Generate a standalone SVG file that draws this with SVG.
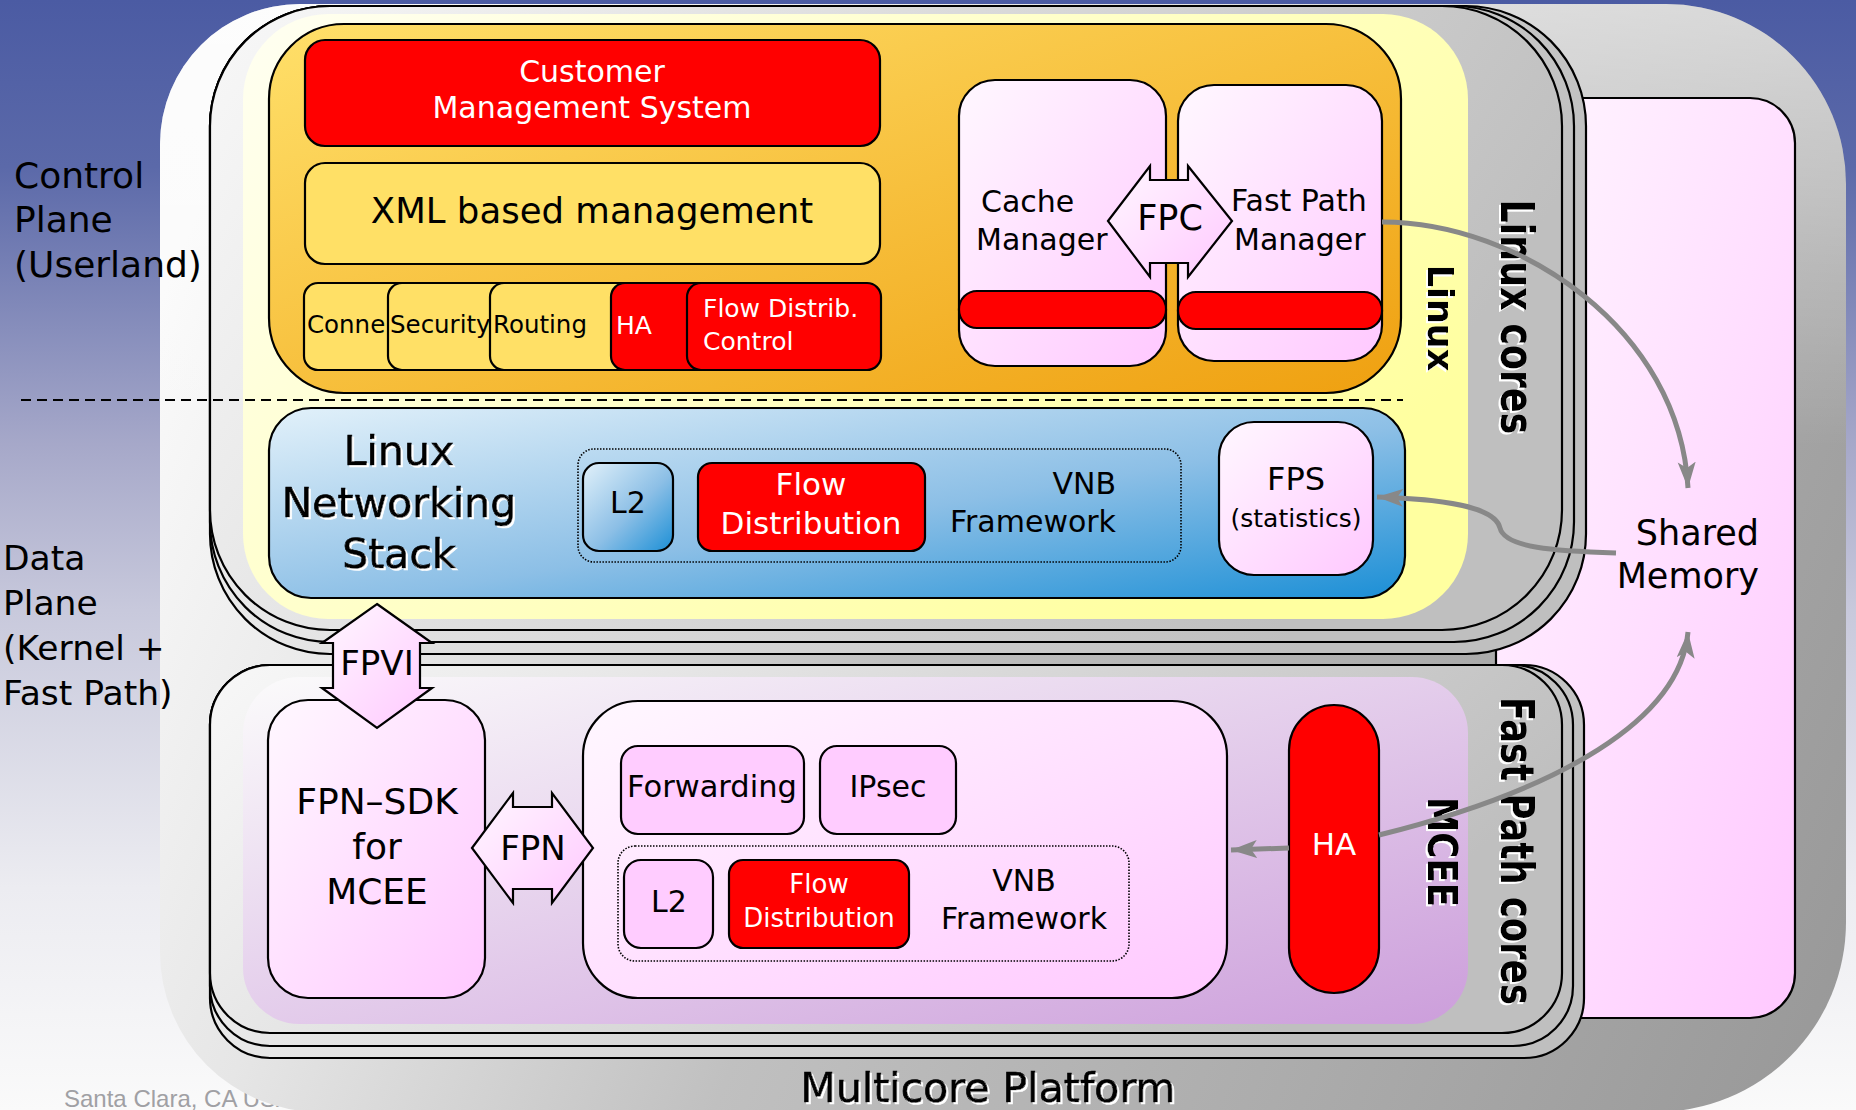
<svg xmlns="http://www.w3.org/2000/svg" width="1856" height="1110" viewBox="0 0 1856 1110">
<defs>
<linearGradient id="bg" x1="0" y1="0" x2="0" y2="1">
<stop offset="0" stop-color="#4b5ba3"/><stop offset="0.15" stop-color="#5b69a9"/><stop offset="0.4" stop-color="#a6a8c9"/><stop offset="0.55" stop-color="#c8c9dc"/><stop offset="0.8" stop-color="#ececf1"/><stop offset="1" stop-color="#fafafa"/>
</linearGradient>
<linearGradient id="outer" gradientUnits="userSpaceOnUse" x1="160" y1="300" x2="1846" y2="1000">
<stop offset="0" stop-color="#fafafa"/><stop offset="0.2" stop-color="#e6e6e6"/><stop offset="0.45" stop-color="#c0c0c0"/><stop offset="1" stop-color="#999999"/>
</linearGradient>
<linearGradient id="outerHi" x1="0" y1="0" x2="0" y2="1">
<stop offset="0" stop-color="#ffffff" stop-opacity="0.55"/><stop offset="0.4" stop-color="#ffffff" stop-opacity="0"/>
</linearGradient>
<linearGradient id="card" x1="0" y1="0" x2="1" y2="0.3">
<stop offset="0" stop-color="#f8f8f8"/><stop offset="1" stop-color="#bfbfbf"/>
</linearGradient>
<linearGradient id="yl" x1="0" y1="0" x2="1" y2="0.6">
<stop offset="0" stop-color="#fffff2"/><stop offset="1" stop-color="#ffffa0"/>
</linearGradient>
<linearGradient id="mc" x1="0" y1="0" x2="1" y2="1">
<stop offset="0" stop-color="#fbfbfb"/><stop offset="1" stop-color="#cc9edb"/>
</linearGradient>
<linearGradient id="or" x1="0" y1="0" x2="1" y2="1">
<stop offset="0" stop-color="#ffe06a"/><stop offset="1" stop-color="#efa010"/>
</linearGradient>
<linearGradient id="pk" x1="0" y1="0" x2="1" y2="1">
<stop offset="0" stop-color="#fff8ff"/><stop offset="1" stop-color="#ffc8ff"/>
</linearGradient>
<linearGradient id="bl" x1="0" y1="0" x2="1" y2="1">
<stop offset="0" stop-color="#e2f1fa"/><stop offset="0.55" stop-color="#8cbfe6"/><stop offset="1" stop-color="#1b8fd6"/>
</linearGradient>
<filter id="sh" x="-5%" y="-10%" width="110%" height="130%">
<feOffset in="SourceAlpha" dx="1.5" dy="1.5" result="o"/>
<feFlood flood-color="#ffffff" result="f"/>
<feComposite in="f" in2="o" operator="in" result="s"/>
<feMerge><feMergeNode in="s"/><feMergeNode in="SourceGraphic"/></feMerge>
</filter>
<marker id="ah" markerUnits="userSpaceOnUse" markerWidth="28" markerHeight="20" refX="26" refY="9" orient="auto">
<path d="M0,0 L26,9 L0,18 L6,9 Z" fill="#888888"/>
</marker>
<style>
text{font-family:'DejaVu Sans',sans-serif;fill:#000}
.bx{stroke:#000;stroke-width:2.2}
.red{fill:#ff0000;stroke:#000;stroke-width:2.2}
.wt{fill:#fff}
.emb{stroke:#000;stroke-width:0.7;filter:url(#sh)}
.rot{font-weight:bold;filter:url(#sh)}
.conn{fill:none;stroke:#888888;stroke-width:5}
</style>
</defs>

<rect x="0" y="0" width="1856" height="1110" fill="url(#bg)"/>
<text x="64" y="1107" font-size="24" style="font-family:'Liberation Sans',sans-serif;fill:#a0a0a4">Santa Clara, CA  USA</text>

<g id="multicore-platform">
<path d="M300,4 H1666 A180,180 0 0 1 1846,184 V922 A190,190 0 0 1 1656,1112 H320 A160,160 0 0 1 160,952 V144 A140,140 0 0 1 300,4 Z" fill="url(#outer)"/>
<path d="M300,4 H1666 A180,180 0 0 1 1846,184 V922 A190,190 0 0 1 1656,1112 H320 A160,160 0 0 1 160,952 V144 A140,140 0 0 1 300,4 Z" fill="url(#outerHi)"/>
<text class="emb" x="988" y="1102" font-size="41" text-anchor="middle">Multicore Platform</text>
</g>

<g id="shared-memory">
<rect class="bx" x="1496" y="98" width="299" height="920" rx="45" fill="url(#pk)"/>
<text x="1759" y="545" font-size="35" text-anchor="end">Shared</text>
<text x="1759" y="588" font-size="35" text-anchor="end">Memory</text>
</g>

<g id="linux-cores">
<rect class="bx" x="210" y="6" width="1376" height="648" rx="120" fill="url(#card)"/>
<rect class="bx" x="210" y="6" width="1364" height="636" rx="120" fill="url(#card)"/>
<rect class="bx" x="210" y="6" width="1352" height="624" rx="120" fill="url(#card)"/>
<rect x="243" y="14" width="1225" height="605" rx="85" fill="url(#yl)"/>
</g>

<g id="control-plane">
<rect class="bx" x="269" y="24" width="1132" height="369" rx="75" fill="url(#or)"/>
</g>

<g id="customer-management">
<rect class="red" x="305" y="40" width="575" height="106" rx="20"/>
<text class="wt" x="592" y="82" font-size="30" text-anchor="middle">Customer</text>
<text class="wt" x="592" y="118" font-size="30" text-anchor="middle">Management System</text>
</g>

<g id="xml-management">
<rect class="bx" x="305" y="163" width="575" height="101" rx="20" fill="#ffe066"/>
<text x="592" y="223" font-size="35.5" text-anchor="middle">XML based management</text>
</g>

<g id="conne">
<rect class="bx" x="304" y="283" width="150" height="87" rx="14" fill="#ffe066"/>
<text x="307" y="333" font-size="24.5">Conne</text>
</g>
<g id="security">
<rect class="bx" x="388" y="283" width="150" height="87" rx="14" fill="#ffe066"/>
<text x="390" y="333" font-size="24.5">Security</text>
</g>
<g id="routing">
<rect class="bx" x="490" y="283" width="160" height="87" rx="14" fill="#ffe066"/>
<text x="493" y="333" font-size="24.5">Routing</text>
</g>
<g id="ha-control">
<rect class="red" x="611" y="283" width="150" height="87" rx="14"/>
<text class="wt" x="616" y="334" font-size="25">HA</text>
</g>
<g id="flow-distrib-control">
<rect class="red" x="687" y="283" width="194" height="87" rx="14"/>
<text class="wt" x="703" y="317" font-size="25">Flow Distrib.</text>
<text class="wt" x="703" y="350" font-size="25">Control</text>
</g>

<g id="cache-manager">
<rect class="bx" x="959" y="80" width="207" height="286" rx="36" fill="url(#pk)"/>
<rect class="red" x="959" y="291" width="207" height="37" rx="18"/>
<text x="981" y="212" font-size="30">Cache</text>
<text x="976" y="250" font-size="30">Manager</text>
</g>

<g id="fast-path-manager">
<rect class="bx" x="1178" y="85" width="204" height="276" rx="36" fill="url(#pk)"/>
<rect class="red" x="1178" y="292" width="204" height="37" rx="18"/>
<text x="1231" y="211" font-size="30">Fast Path</text>
<text x="1234" y="250" font-size="30">Manager</text>
</g>

<g id="fpc">
<path class="bx" d="M1108,221 L1150,166 L1150,180 L1188,180 L1188,166 L1232,221 L1188,277 L1188,263 L1150,263 L1150,277 Z" fill="url(#pk)"/>
<text x="1170" y="230" font-size="35" text-anchor="middle">FPC</text>
</g>

<line x1="21" y1="400" x2="1403" y2="400" stroke="#000" stroke-width="2" stroke-dasharray="10 6"/>

<g id="linux-networking-stack">
<rect class="bx" x="269" y="408" width="1136" height="190" rx="42" fill="url(#bl)"/>
<text class="emb" x="399" y="465" font-size="41" text-anchor="middle">Linux</text>
<text class="emb" x="399" y="517" font-size="41" text-anchor="middle">Networking</text>
<text class="emb" x="399" y="568" font-size="41" text-anchor="middle">Stack</text>
</g>

<g id="vnb-linux">
<rect x="578" y="449" width="603" height="113" rx="16" fill="none" stroke="#000" stroke-width="1.6" stroke-dasharray="1.5 1.5"/>
<text x="1116" y="494" font-size="30" text-anchor="end">VNB</text>
<text x="1116" y="532" font-size="30" text-anchor="end">Framework</text>
</g>
<g id="l2-linux">
<rect class="bx" x="583" y="463" width="90" height="88" rx="16" fill="url(#bl)"/>
<text x="628" y="513" font-size="30" text-anchor="middle">L2</text>
</g>
<g id="flow-distribution-linux">
<rect class="red" x="698" y="463" width="227" height="88" rx="14"/>
<text class="wt" x="811" y="495" font-size="31" text-anchor="middle">Flow</text>
<text class="wt" x="811" y="534" font-size="31" text-anchor="middle">Distribution</text>
</g>

<g id="fps">
<rect class="bx" x="1219" y="422" width="154" height="153" rx="35" fill="url(#pk)"/>
<text x="1296" y="490" font-size="32" text-anchor="middle">FPS</text>
<text x="1296" y="527" font-size="25" text-anchor="middle">(statistics)</text>
</g>

<g id="linux-label">
<text class="rot" transform="translate(1428,318) rotate(90)" font-size="35" text-anchor="middle">Linux</text>
<text class="rot" transform="translate(1501,317) rotate(90)" font-size="46" text-anchor="middle" textLength="235" lengthAdjust="spacingAndGlyphs">Linux cores</text>
</g>

<g id="fast-path-cores">
<rect class="bx" x="210" y="665" width="1374" height="393" rx="60" fill="url(#card)"/>
<rect class="bx" x="210" y="665" width="1363" height="381" rx="60" fill="url(#card)"/>
<rect class="bx" x="210" y="665" width="1352" height="368" rx="60" fill="url(#card)"/>
<rect x="243" y="677" width="1225" height="347" rx="56" fill="url(#mc)"/>
<text class="rot" transform="translate(1428,852) rotate(90)" font-size="40" text-anchor="middle" textLength="110" lengthAdjust="spacingAndGlyphs">MCEE</text>
<text class="rot" transform="translate(1501,851) rotate(90)" font-size="46" text-anchor="middle" textLength="308" lengthAdjust="spacingAndGlyphs">Fast Path cores</text>
</g>

<g id="fpn-sdk">
<rect class="bx" x="268" y="700" width="217" height="298" rx="40" fill="url(#pk)"/>
<text x="377" y="814" font-size="36" text-anchor="middle">FPN–SDK</text>
<text x="377" y="859" font-size="36" text-anchor="middle">for</text>
<text x="377" y="904" font-size="36" text-anchor="middle">MCEE</text>
</g>

<g id="fast-path-apps">
<rect class="bx" x="583" y="701" width="644" height="297" rx="55" fill="url(#pk)"/>
</g>
<g id="forwarding">
<rect class="bx" x="621" y="746" width="183" height="88" rx="17" fill="#ffccff"/>
<text x="712" y="797" font-size="30.5" text-anchor="middle">Forwarding</text>
</g>
<g id="ipsec">
<rect class="bx" x="820" y="746" width="136" height="88" rx="17" fill="#ffccff"/>
<text x="888" y="797" font-size="30" text-anchor="middle">IPsec</text>
</g>
<g id="vnb-fastpath">
<rect x="618" y="846" width="511" height="115" rx="17" fill="none" stroke="#000" stroke-width="1.6" stroke-dasharray="1.5 1.5"/>
<text x="1024" y="891" font-size="30" text-anchor="middle">VNB</text>
<text x="1024" y="929" font-size="30" text-anchor="middle">Framework</text>
</g>
<g id="l2-fastpath">
<rect class="bx" x="624" y="860" width="89" height="88" rx="17" fill="#ffccff"/>
<text x="669" y="912" font-size="30" text-anchor="middle">L2</text>
</g>
<g id="flow-distribution-fastpath">
<rect class="red" x="729" y="860" width="180" height="88" rx="14"/>
<text class="wt" x="819" y="893" font-size="26" text-anchor="middle">Flow</text>
<text class="wt" x="819" y="927" font-size="26" text-anchor="middle">Distribution</text>
</g>

<g id="ha-fastpath">
<rect class="red" x="1289" y="705" width="90" height="288" rx="45"/>
<text class="wt" x="1334" y="855" font-size="31" text-anchor="middle">HA</text>
</g>

<g id="fpvi">
<path class="bx" d="M377,604 L432,643 L420,643 L420,688 L432,688 L377,728 L322,688 L333,688 L333,643 L322,643 Z" fill="url(#pk)"/>
<text x="377" y="675" font-size="34" text-anchor="middle">FPVI</text>
</g>

<g id="fpn">
<path class="bx" d="M472,848 L513,793 L513,807 L552,807 L552,793 L593,848 L552,903 L552,889 L513,889 L513,903 Z" fill="url(#pk)"/>
<text x="533" y="860" font-size="34" text-anchor="middle">FPN</text>
</g>

<g id="connectors">
<path class="conn" d="M1382,222 C1520,222 1680,330 1688,488" marker-end="url(#ah)"/>
<path class="conn" d="M1616,553 C1555,551 1505,548 1500,528 C1495,506 1440,499 1377,497" marker-end="url(#ah)"/>
<path class="conn" d="M1379,835 C1560,790 1680,720 1688,632" marker-end="url(#ah)"/>
<path class="conn" d="M1289,848 L1231,850" marker-end="url(#ah)"/>
</g>

<g id="plane-labels">
<text x="14" y="188" font-size="36">Control</text>
<text x="14" y="232" font-size="36">Plane</text>
<text x="14" y="277" font-size="36">(Userland)</text>
<text x="3" y="570" font-size="34.5">Data</text>
<text x="3" y="615" font-size="34.5">Plane</text>
<text x="3" y="660" font-size="34.5">(Kernel +</text>
<text x="3" y="705" font-size="34.5">Fast Path)</text>
</g>
</svg>
